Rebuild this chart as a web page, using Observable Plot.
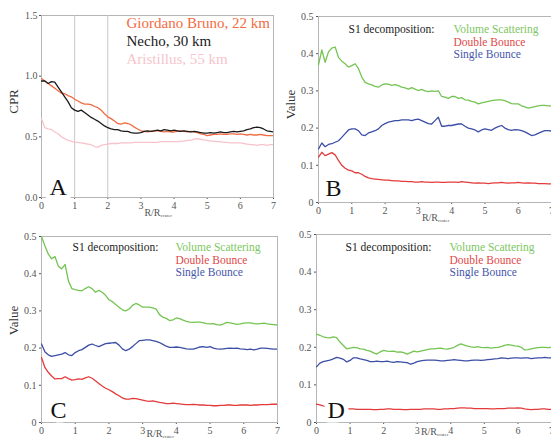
<!DOCTYPE html>
<html>
<head>
<meta charset="utf-8">
<script src="https://cdn.jsdelivr.net/npm/d3@7"></script>
<script src="https://cdn.jsdelivr.net/npm/@observablehq/plot@0.6"></script>
<style>
  html, body { margin: 0; padding: 0; background: white; }
  #wrap { position: relative; width: 551px; height: 440px; overflow: hidden; background: white; }
  #wrap svg text { font-family: 'Liberation Serif', 'DejaVu Serif', serif; }
</style>
</head>
<body>
<div id="wrap"></div>
<script>
// ---- sample positions (R/R_crater) ----
const xs = d3.range(71).map(i => +(i / 10).toFixed(1));
const xTicks = [0, 1, 2, 3, 4, 5, 6, 7];
const cprTicks = [0, 0.5, 1.0, 1.5];
const valueTicks = [0, 0.1, 0.2, 0.3, 0.4, 0.5];
const guideLinesA = [1, 2];

// ---- Panel A: CPR ----
const cprGiordano = [
0.98,0.96,0.94,0.92,0.90,0.88,0.86,0.855,0.84,0.83,
0.81,0.795,0.78,0.77,0.77,0.765,0.75,0.74,0.72,0.69,
0.665,0.65,0.63,0.61,0.605,0.615,0.61,0.60,0.58,0.565,
0.55,0.545,0.54,0.545,0.55,0.55,0.545,0.54,0.545,0.54,
0.54,0.545,0.55,0.545,0.54,0.545,0.54,0.535,0.525,0.52,
0.51,0.515,0.52,0.52,0.525,0.52,0.52,0.525,0.525,0.52,
0.525,0.52,0.515,0.52,0.515,0.515,0.52,0.515,0.51,0.51,
0.51];
const cprNecho = [
0.96,0.96,0.94,0.955,0.95,0.91,0.87,0.83,0.79,0.74,
0.72,0.71,0.72,0.70,0.68,0.66,0.645,0.63,0.61,0.59,
0.575,0.565,0.56,0.56,0.55,0.545,0.545,0.535,0.53,0.53,
0.535,0.545,0.55,0.545,0.55,0.555,0.55,0.56,0.555,0.55,
0.555,0.55,0.545,0.55,0.545,0.54,0.545,0.54,0.535,0.53,
0.53,0.535,0.53,0.535,0.54,0.535,0.535,0.54,0.545,0.54,
0.545,0.55,0.56,0.565,0.575,0.58,0.575,0.565,0.55,0.545,
0.54];
const cprAristillus = [
0.65,0.575,0.565,0.56,0.54,0.525,0.50,0.485,0.47,0.465,
0.455,0.455,0.45,0.445,0.44,0.435,0.42,0.415,0.43,0.435,
0.44,0.445,0.445,0.445,0.45,0.45,0.45,0.45,0.455,0.455,
0.455,0.455,0.455,0.455,0.455,0.455,0.46,0.46,0.46,0.46,
0.46,0.46,0.465,0.465,0.47,0.47,0.48,0.485,0.48,0.475,
0.47,0.465,0.465,0.46,0.46,0.455,0.455,0.45,0.45,0.45,
0.45,0.445,0.44,0.435,0.435,0.43,0.435,0.435,0.43,0.435,
0.435];

// ---- Panel B ----
const bVolume = [
0.37,0.41,0.377,0.405,0.415,0.418,0.39,0.38,0.373,0.364,
0.368,0.373,0.36,0.337,0.323,0.319,0.316,0.312,0.31,0.316,
0.319,0.318,0.315,0.317,0.314,0.31,0.308,0.305,0.309,0.305,
0.301,0.304,0.30,0.298,0.30,0.299,0.30,0.285,0.283,0.28,
0.285,0.285,0.28,0.282,0.276,0.275,0.272,0.27,0.265,0.268,
0.27,0.272,0.274,0.275,0.276,0.276,0.274,0.27,0.266,0.265,
0.265,0.26,0.257,0.254,0.256,0.258,0.26,0.261,0.261,0.26,
0.26];
const bDouble = [
0.122,0.135,0.126,0.13,0.134,0.128,0.113,0.1,0.092,0.087,
0.085,0.08,0.08,0.076,0.07,0.066,0.064,0.063,0.062,0.061,
0.06,0.06,0.059,0.058,0.058,0.057,0.057,0.056,0.056,0.055,
0.055,0.056,0.055,0.055,0.054,0.055,0.055,0.054,0.054,0.055,
0.055,0.055,0.054,0.056,0.055,0.054,0.053,0.052,0.053,0.052,
0.052,0.051,0.052,0.053,0.053,0.054,0.053,0.052,0.053,0.053,
0.054,0.053,0.052,0.053,0.052,0.052,0.051,0.051,0.051,0.05,
0.05];
const bSingle = [
0.144,0.16,0.15,0.156,0.158,0.162,0.166,0.175,0.185,0.195,
0.198,0.198,0.193,0.182,0.18,0.187,0.19,0.193,0.198,0.207,
0.212,0.216,0.218,0.22,0.22,0.222,0.222,0.222,0.22,0.223,
0.224,0.22,0.216,0.212,0.211,0.22,0.229,0.205,0.205,0.207,
0.207,0.209,0.211,0.211,0.205,0.2,0.198,0.195,0.19,0.195,
0.198,0.196,0.194,0.2,0.204,0.207,0.2,0.196,0.194,0.196,
0.195,0.193,0.19,0.185,0.18,0.182,0.186,0.19,0.193,0.193,
0.192];

// ---- Panel C ----
const cVolume = [
0.5,0.475,0.453,0.44,0.446,0.42,0.413,0.425,0.38,0.36,
0.357,0.355,0.354,0.36,0.365,0.36,0.35,0.355,0.35,0.342,
0.33,0.325,0.317,0.31,0.303,0.3,0.305,0.315,0.32,0.316,
0.31,0.31,0.31,0.308,0.305,0.29,0.283,0.28,0.274,0.276,
0.281,0.279,0.275,0.272,0.27,0.269,0.27,0.27,0.268,0.266,
0.265,0.266,0.263,0.262,0.265,0.269,0.268,0.266,0.264,0.265,
0.267,0.268,0.268,0.266,0.265,0.266,0.267,0.265,0.264,0.263,
0.262];
const cDouble = [
0.175,0.148,0.135,0.125,0.117,0.118,0.118,0.123,0.118,0.114,
0.115,0.117,0.116,0.12,0.123,0.119,0.112,0.105,0.098,0.092,
0.088,0.083,0.077,0.072,0.066,0.063,0.063,0.065,0.064,0.062,
0.06,0.058,0.057,0.058,0.056,0.054,0.053,0.051,0.051,0.052,
0.051,0.05,0.049,0.048,0.048,0.049,0.048,0.047,0.047,0.046,
0.046,0.045,0.045,0.046,0.046,0.047,0.047,0.046,0.046,0.047,
0.047,0.047,0.046,0.047,0.047,0.048,0.048,0.048,0.049,0.049,
0.049];
const cSingle = [
0.211,0.19,0.182,0.178,0.18,0.182,0.184,0.188,0.182,0.18,
0.188,0.193,0.196,0.202,0.208,0.211,0.207,0.204,0.208,0.212,
0.213,0.214,0.215,0.208,0.198,0.193,0.197,0.204,0.212,0.22,
0.221,0.222,0.222,0.22,0.218,0.215,0.21,0.205,0.202,0.202,
0.203,0.202,0.2,0.198,0.197,0.197,0.2,0.203,0.204,0.202,
0.204,0.2,0.198,0.197,0.198,0.199,0.2,0.199,0.2,0.198,
0.197,0.196,0.197,0.195,0.197,0.2,0.2,0.199,0.198,0.197,
0.197];

// ---- Panel D ----
const dVolume = [
0.235,0.232,0.228,0.226,0.225,0.228,0.226,0.214,0.205,0.196,
0.198,0.2,0.199,0.196,0.195,0.192,0.19,0.185,0.182,0.188,
0.192,0.19,0.189,0.19,0.187,0.188,0.186,0.182,0.186,0.19,
0.188,0.19,0.192,0.194,0.196,0.196,0.197,0.198,0.196,0.195,
0.197,0.2,0.205,0.209,0.206,0.203,0.201,0.2,0.202,0.2,
0.199,0.2,0.198,0.199,0.2,0.202,0.205,0.207,0.206,0.204,
0.203,0.2,0.193,0.194,0.196,0.198,0.199,0.2,0.2,0.199,
0.2];
const dDouble = [
0.049,0.047,0.044,0.042,0.04,0.039,0.038,0.037,0.037,0.036,
0.036,0.036,0.035,0.035,0.035,0.035,0.035,0.034,0.034,0.035,
0.035,0.036,0.036,0.035,0.035,0.035,0.034,0.034,0.035,0.035,
0.035,0.035,0.036,0.036,0.036,0.036,0.035,0.035,0.036,0.036,
0.037,0.037,0.038,0.039,0.039,0.038,0.038,0.037,0.037,0.037,
0.037,0.037,0.036,0.036,0.037,0.037,0.037,0.038,0.038,0.038,
0.039,0.038,0.036,0.035,0.034,0.035,0.035,0.036,0.036,0.035,
0.035];
const dSingle = [
0.148,0.158,0.162,0.164,0.166,0.169,0.173,0.171,0.168,0.161,
0.165,0.172,0.172,0.169,0.167,0.165,0.162,0.162,0.163,0.162,
0.162,0.163,0.161,0.16,0.162,0.161,0.16,0.159,0.155,0.158,
0.162,0.164,0.165,0.166,0.166,0.166,0.165,0.164,0.164,0.165,
0.166,0.167,0.166,0.165,0.164,0.164,0.165,0.166,0.166,0.165,
0.166,0.167,0.168,0.169,0.17,0.172,0.171,0.17,0.171,0.172,
0.172,0.171,0.172,0.172,0.17,0.171,0.172,0.172,0.173,0.172,
0.172];

const legendA = ["Giordano Bruno, 22 km", "Necho, 30 km", "Aristillus, 55 km"];
const legendS1 = ["Volume Scattering", "Double Bounce", "Single Bounce"];

// ---- styling ----
const COL = {
  orange: "#f26b43", black: "#1a1a1a", pink: "#f7c4cc",
  green: "#74c452", red: "#e33b3b", blue: "#3c4ea5",
  gtext: "#7dc762", rtext: "#e04848", btext: "#4657ab"
};
const SERIF = "'Liberation Serif', 'DejaVu Serif', serif";
const rows = ys => xs.map((x, i) => ({x, y: ys[i]}));
const one = [0];
const fmtValue = d => d === 0 ? "0" : d.toFixed(1);

function panel(o) {
  const marks = [
    Plot.frame({stroke: "#b5b5b5", strokeWidth: 1}),
  ];
  if (o.rules) marks.push(Plot.ruleX(o.rules, {stroke: "#c8c8c8", strokeWidth: 1}));
  for (const s of o.series) {
    marks.push(Plot.line(rows(s.data), {x: "x", y: "y", stroke: s.color, strokeWidth: 1.3, clip: true}));
  }
  // panel letter
  marks.push(Plot.text(one, {frameAnchor: "bottom-left", text: () => o.letter, dx: o.letterDx, dy: o.letterDy,
    lineAnchor: "bottom", fontSize: 24, fill: "#111", stroke: "white", strokeWidth: 9}));
  // y label
  if (o.yLabel) marks.push(Plot.text(one, {frameAnchor: "left", text: () => o.yLabel, rotate: -90,
    textAnchor: "middle", lineAnchor: "middle", dx: o.yLabelDx, dy: o.yLabelDy, fontSize: 13, fill: "#333"}));
  // x label R/R_crater
  marks.push(Plot.text(one, {frameAnchor: "bottom", text: () => "R/R", textAnchor: "end", lineAnchor: "top",
    dx: 3, dy: o.xLabelDy, fontSize: 10, fill: "#555"}));
  marks.push(Plot.text(one, {frameAnchor: "bottom", text: () => "crater", textAnchor: "start", lineAnchor: "top",
    dx: 3, dy: o.xLabelDy + 5, fontSize: 5, fill: "#555"}));
  // legend texts
  for (const t of o.texts) {
    marks.push(Plot.text(one, {frameAnchor: "top-left", text: () => t.text, textAnchor: "start", lineAnchor: "top",
      dx: t.dx, dy: t.dy, fontSize: t.size, fill: t.color}));
  }
  const svg = Plot.plot({
    width: o.width, height: o.height,
    marginLeft: o.ml, marginRight: o.mr, marginTop: o.mt, marginBottom: o.mb,
    x: {domain: [0, 7], ticks: xTicks, tickFormat: d3.format("d"), tickSize: 2, tickPadding: 2, label: null},
    y: {domain: o.yDomain, ticks: o.yTicks, tickFormat: o.yFormat, tickSize: 2, tickPadding: o.yPad, label: null},
    style: {background: "transparent", overflow: "visible", fontFamily: SERIF, fontSize: "10px", color: "#555"},
    marks
  });
  svg.style.position = "absolute";
  svg.style.left = o.left + "px";
  svg.style.top = o.top + "px";
  document.getElementById("wrap").appendChild(svg);
}

const s1Texts = (dxA, dxB, dys) => [
  {text: "S1 decomposition:", dx: dxA, dy: dys[0], size: 11.5, color: "#222"},
  {text: legendS1[0], dx: dxB, dy: dys[0], size: 11.5, color: COL.gtext},
  {text: legendS1[1], dx: dxB, dy: dys[1], size: 11.5, color: COL.rtext},
  {text: legendS1[2], dx: dxB, dy: dys[2], size: 11.5, color: COL.btext}
];

// Panel A
panel({
  left: 0, top: 0, width: 276, height: 220, ml: 41, mr: 3, mt: 15, mb: 23,
  yDomain: [0, 1.5], yTicks: cprTicks, yFormat: d3.format(".1f"), yPad: 2,
  rules: guideLinesA,
  series: [
    {data: cprAristillus, color: COL.pink},
    {data: cprGiordano, color: COL.orange},
    {data: cprNecho, color: COL.black}
  ],
  letter: "A", letterDx: 8, letterDy: -3,
  yLabel: "CPR", yLabelDx: -28, yLabelDy: -5,
  xLabelDy: 11,
  texts: [
    {text: legendA[0], dx: 85, dy: 2, size: 15, color: COL.orange},
    {text: legendA[1], dx: 85, dy: 20, size: 15, color: COL.black},
    {text: legendA[2], dx: 85, dy: 38, size: 15, color: COL.pink}
  ]
});

// Panel B
panel({
  left: 276, top: 0, width: 275, height: 220, ml: 42, mr: 0, mt: 16, mb: 18,
  yDomain: [0, 0.5], yTicks: valueTicks, yFormat: fmtValue, yPad: 3,
  series: [
    {data: bVolume, color: COL.green},
    {data: bSingle, color: COL.blue},
    {data: bDouble, color: COL.red}
  ],
  letter: "B", letterDx: 7, letterDy: -7,
  yLabel: "Value", yLabelDx: -28, yLabelDy: -5,
  xLabelDy: 11,
  texts: s1Texts(30, 135, [8.5, 21, 33.5])
});

// Panel C
panel({
  left: 0, top: 220, width: 280, height: 220, ml: 41, mr: 3, mt: 16, mb: 18,
  yDomain: [0, 0.5], yTicks: valueTicks, yFormat: fmtValue, yPad: 3,
  series: [
    {data: cVolume, color: COL.green},
    {data: cSingle, color: COL.blue},
    {data: cDouble, color: COL.red}
  ],
  letter: "C", letterDx: 9, letterDy: -5,
  yLabel: "Value", yLabelDx: -28, yLabelDy: -9,
  xLabelDy: 7,
  texts: s1Texts(31, 134, [6.5, 19, 31.5])
});

// Panel D
panel({
  left: 276, top: 220, width: 275, height: 220, ml: 40, mr: 0, mt: 14, mb: 18,
  yDomain: [0, 0.5], yTicks: valueTicks, yFormat: fmtValue, yPad: 3,
  series: [
    {data: dVolume, color: COL.green},
    {data: dSingle, color: COL.blue},
    {data: dDouble, color: COL.red}
  ],
  letter: "D", letterDx: 11, letterDy: -5,
  yLabel: null,
  xLabelDy: 5,
  texts: s1Texts(29, 133, [8.5, 21, 33.5])
});
</script>
</body>
</html>
